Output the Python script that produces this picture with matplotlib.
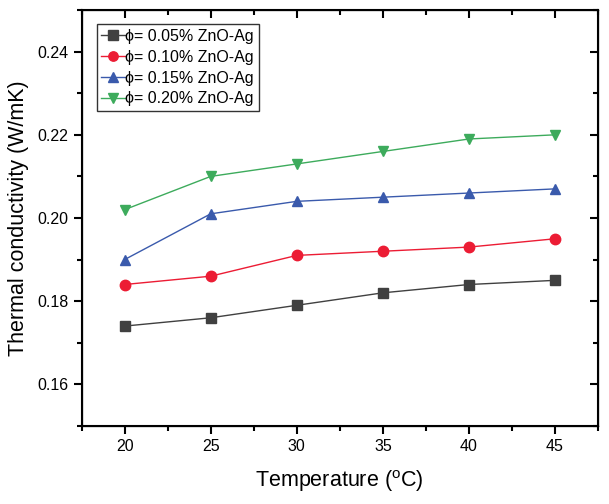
import numpy as np
import matplotlib.pyplot as plt
from matplotlib.ticker import MultipleLocator

plt.rcParams['font.family'] = ['Liberation Sans', 'DejaVu Sans']

temp = [20, 25, 30, 35, 40, 45]
k_005 = [0.174, 0.176, 0.179, 0.182, 0.184, 0.185]
k_010 = [0.184, 0.186, 0.191, 0.192, 0.193, 0.195]
k_015 = [0.190, 0.201, 0.204, 0.205, 0.206, 0.207]
k_020 = [0.202, 0.210, 0.213, 0.216, 0.219, 0.220]

labels = ["ϕ= 0.05% ZnO-Ag", "ϕ= 0.10% ZnO-Ag", "ϕ= 0.15% ZnO-Ag", "ϕ= 0.20% ZnO-Ag"]
colors = ['#404040', '#EC1C34', '#3A5AAC', '#3DAB5C']
markers = ['s', 'o', '^', 'v']

fig = plt.figure(figsize=(6.09, 5.04), dpi=100)
ax = fig.add_axes([0.134, 0.155, 0.848, 0.825])

for y, lab, c, m in zip([k_005, k_010, k_015, k_020], labels, colors, markers):
	ax.plot(temp, y, color=c, marker=m, markersize=7.5, linewidth=1.0, label=lab)

ax.set_xlim(17.5, 47.5)
ax.set_ylim(0.15, 0.25)
ax.xaxis.set_major_locator(MultipleLocator(5))
ax.xaxis.set_minor_locator(MultipleLocator(2.5))
ax.yaxis.set_major_locator(MultipleLocator(0.02))
ax.yaxis.set_minor_locator(MultipleLocator(0.01))
ax.yaxis.set_major_formatter(plt.FormatStrFormatter('%.2f'))
ax.tick_params(which='major', direction='out', length=6, width=1.5, labelsize=11.5)
ax.tick_params(which='minor', direction='out', length=3.5, width=1.5)
for s in ax.spines.values():
	s.set_linewidth(1.5)

# mirrored inward ticks on top and right
ax2 = ax.twinx()
ax2.set_ylim(ax.get_ylim())
ax2.yaxis.set_major_locator(MultipleLocator(0.02))
ax2.yaxis.set_minor_locator(MultipleLocator(0.01))
ax2.tick_params(which='major', direction='in', length=6, width=1.5, labelright=False)
ax2.tick_params(which='minor', direction='in', length=3.5, width=1.5)
ax3 = ax.twiny()
ax3.set_xlim(ax.get_xlim())
ax3.xaxis.set_major_locator(MultipleLocator(5))
ax3.xaxis.set_minor_locator(MultipleLocator(2.5))
ax3.tick_params(which='major', direction='in', length=6, width=1.5, labeltop=False)
ax3.tick_params(which='minor', direction='in', length=3.5, width=1.5)

ax.set_xlabel("Temperature ($\\mathregular{^{o}}$C)", fontsize=15.5, labelpad=10)
ax.set_ylabel("Thermal conductivity (W/mK)", fontsize=15.5, labelpad=6)

leg = ax.legend(loc='upper left', bbox_to_anchor=(0.029, 0.966), fontsize=11.5, frameon=True,
	fancybox=False, edgecolor='black', handlelength=1.5, handletextpad=0.0,
	labelspacing=0.36, borderpad=0.3, borderaxespad=0.0, markerscale=0.9)
leg.get_frame().set_linewidth(1.0)

plt.savefig("out.png", dpi=100)
